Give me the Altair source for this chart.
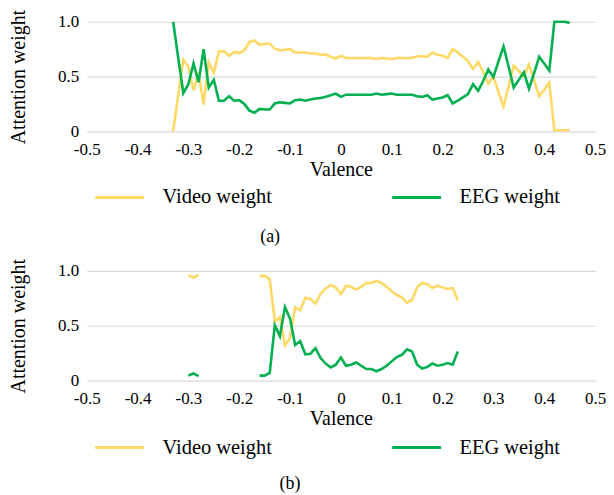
import altair as alt
import pandas as pd

FONT = "Times New Roman, Liberation Serif, serif"
VIDEO_C = "#FFD966"
EEG_C = "#00B050"
SERIES = ["Video weight", "EEG weight"]
X_TICKS = [-0.5, -0.4, -0.3, -0.2, -0.1, 0, 0.1, 0.2, 0.3, 0.4, 0.5]
Y_TICKS = [0, 0.5, 1.0]

# ---- panel (a) ----
a_valence = [-0.33, -0.32, -0.31, -0.30, -0.29, -0.28, -0.27, -0.26, -0.25, -0.24,
             -0.23, -0.22, -0.21, -0.20, -0.19, -0.18, -0.17, -0.16, -0.15, -0.14,
             -0.13, -0.12, -0.11, -0.10, -0.09, -0.08, -0.07, -0.06, -0.05, -0.04,
             -0.03, -0.02, -0.01, 0.00, 0.01, 0.02, 0.03, 0.04, 0.05, 0.06,
             0.07, 0.08, 0.09, 0.10, 0.11, 0.12, 0.13, 0.14, 0.15, 0.16,
             0.17, 0.18, 0.19, 0.20, 0.21, 0.22, 0.23, 0.24, 0.25, 0.26,
             0.27, 0.28, 0.29, 0.30, 0.31, 0.32, 0.33, 0.34, 0.35, 0.36,
             0.37, 0.38, 0.39, 0.40, 0.41, 0.42, 0.43, 0.44, 0.45]
a_video = [0.00, 0.33, 0.655, 0.59, 0.375, 0.54, 0.245, 0.63, 0.535, 0.73,
           0.73, 0.69, 0.725, 0.715, 0.74, 0.815, 0.83, 0.79, 0.80, 0.80,
           0.755, 0.74, 0.745, 0.75, 0.72, 0.72, 0.72, 0.71, 0.71, 0.70,
           0.70, 0.68, 0.665, 0.69, 0.67, 0.67, 0.67, 0.67, 0.67, 0.67,
           0.66, 0.67, 0.665, 0.66, 0.67, 0.67, 0.67, 0.67, 0.685, 0.685,
           0.68, 0.72, 0.70, 0.69, 0.67, 0.75, 0.72, 0.68, 0.64, 0.57,
           0.635, 0.54, 0.435, 0.50, 0.36, 0.225, 0.41, 0.60, 0.55, 0.50,
           0.61, 0.47, 0.32, 0.38, 0.445, 0.01, 0.01, 0.01, 0.01]
a_eeg = [1.00, 0.67, 0.35, 0.43, 0.62, 0.45, 0.75, 0.40, 0.47, 0.28,
         0.28, 0.32, 0.28, 0.285, 0.25, 0.19, 0.17, 0.205, 0.20, 0.20,
         0.255, 0.265, 0.26, 0.255, 0.285, 0.29, 0.28, 0.29, 0.30, 0.305,
         0.315, 0.33, 0.345, 0.315, 0.335, 0.335, 0.335, 0.335, 0.335, 0.335,
         0.345, 0.335, 0.34, 0.345, 0.335, 0.335, 0.335, 0.335, 0.32, 0.315,
         0.33, 0.29, 0.30, 0.31, 0.33, 0.255, 0.28, 0.31, 0.34, 0.43,
         0.37, 0.46, 0.565, 0.495, 0.64, 0.775, 0.59, 0.40, 0.47, 0.54,
         0.39, 0.53, 0.68, 0.62, 0.555, 1.00, 1.00, 1.00, 0.99]

# ---- panel (b): two separate runs of data ----
b1_valence = [-0.30, -0.29, -0.28]
b1_video = [0.96, 0.94, 0.965]
b1_eeg = [0.045, 0.065, 0.04]

b2_valence = [-0.16, -0.15, -0.14, -0.13, -0.12, -0.11, -0.10, -0.09, -0.08, -0.07,
              -0.06, -0.05, -0.04, -0.03, -0.02, -0.01, 0.00, 0.01, 0.02, 0.03,
              0.04, 0.05, 0.06, 0.07, 0.08, 0.09, 0.10, 0.11, 0.12, 0.13,
              0.14, 0.15, 0.16, 0.17, 0.18, 0.19, 0.20, 0.21, 0.22, 0.23]
b2_video = [0.955, 0.955, 0.925, 0.54, 0.58, 0.32, 0.385, 0.67, 0.64, 0.755,
            0.745, 0.70, 0.79, 0.84, 0.87, 0.85, 0.79, 0.865, 0.855, 0.83,
            0.855, 0.89, 0.89, 0.91, 0.89, 0.855, 0.815, 0.78, 0.76, 0.71,
            0.735, 0.85, 0.89, 0.88, 0.845, 0.865, 0.85, 0.835, 0.845, 0.73]
b2_eeg = [0.045, 0.045, 0.07, 0.505, 0.405, 0.67, 0.565, 0.325, 0.36, 0.24,
          0.245, 0.295, 0.205, 0.155, 0.12, 0.145, 0.21, 0.135, 0.145, 0.165,
          0.135, 0.105, 0.105, 0.085, 0.105, 0.135, 0.175, 0.215, 0.235, 0.285,
          0.265, 0.145, 0.11, 0.125, 0.155, 0.135, 0.145, 0.16, 0.145, 0.265]


def to_long(valence, video, eeg, seg):
    rows = []
    for v, w in zip(valence, video):
        rows.append({"valence": v, "weight": w, "series": SERIES[0], "seg": seg})
    for v, w in zip(valence, eeg):
        rows.append({"valence": v, "weight": w, "series": SERIES[1], "seg": seg})
    return rows


df_a = pd.DataFrame(to_long(a_valence, a_video, a_eeg, 0))
df_b = pd.DataFrame(to_long(b1_valence, b1_video, b1_eeg, 0)
                    + to_long(b2_valence, b2_video, b2_eeg, 1))

X_LABEL = ("abs(datum.value) < 1e-9 ? '0' : (datum.value < 0 ? '-' + format(-datum.value, '.1f') "
           ": format(datum.value, '.1f'))")
Y_LABEL = "datum.value == 0 ? '0' : format(datum.value, '.1f')"


def panel(df, label, legend_y, title_dx, title_offset):
    x = alt.X(
        "valence:Q",
        scale=alt.Scale(domain=[-0.5, 0.5], nice=False, zero=False),
        axis=alt.Axis(
            values=X_TICKS, labelExpr=X_LABEL,
            title="Valence", grid=False, domain=False, ticks=False,
            labelPadding=10, titlePadding=2, labelOverlap=False, labelFlush=False,
            labelFont=FONT, labelFontSize=17, labelColor="black",
            titleFont=FONT, titleFontSize=20, titleFontWeight="normal", titleColor="black",
        ),
    )
    y = alt.Y(
        "weight:Q",
        scale=alt.Scale(domain=[0, 1], nice=False),
        axis=alt.Axis(
            values=Y_TICKS, labelExpr=Y_LABEL,
            title="Attention weight", grid=True, gridColor="#d9d9d9", gridWidth=1.2,
            domain=False, ticks=False, labelPadding=8, titlePadding=29,
            labelFont=FONT, labelFontSize=17, labelColor="black",
            titleFont=FONT, titleFontSize=20, titleFontWeight="normal", titleColor="black",
        ),
    )
    color = alt.Color(
        "series:N",
        scale=alt.Scale(domain=SERIES, range=[VIDEO_C, EEG_C]),
        sort=SERIES,
        legend=alt.Legend(
            title=None, orient="none", legendX=7, legendY=legend_y,
            direction="horizontal", symbolType="stroke", symbolSize=2401,
            symbolStrokeWidth=3, labelFont=FONT, labelFontSize=20.5,
            labelColor="black", labelOffset=17, columnPadding=114, labelLimit=400,
        ),
    )
    return (
        alt.Chart(df)
        .mark_line(strokeWidth=2.6)
        .encode(x=x, y=y, color=color, detail="seg:N", order="valence:Q")
        .properties(
            width=510, height=110,
            title=alt.TitleParams(
                label, orient="bottom", anchor="middle", frame="group", dx=title_dx,
                offset=title_offset, font=FONT, fontSize=18, fontWeight="normal",
                color="black",
            ),
        )
    )


top = panel(df_a, "(a)", 150, -71, 20)
bottom = panel(df_b, "(b)", 151, -51, 17)

chart = (
    alt.vconcat(top, bottom, spacing=12)
    .resolve_scale(color="independent")
    .resolve_legend(color="independent")
    .configure(
        font=FONT,
        style={"guide-label": {"font": FONT}, "guide-title": {"font": FONT}},
    )
    .configure_axis(
        labelFont=FONT, labelFontSize=17, labelColor="black",
        titleFont=FONT, titleFontSize=20, titleFontWeight="normal", titleColor="black",
    )
    .configure_view(stroke=None)
    .properties(padding={"left": 0, "top": 0, "right": 0, "bottom": 0})
)

chart.save("out.html", embed_options={"renderer": "svg", "actions": False})
